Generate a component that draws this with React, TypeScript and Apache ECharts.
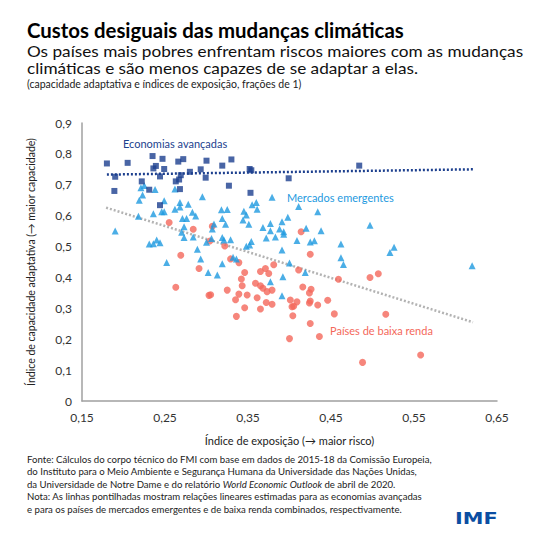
import React, { useEffect, useRef } from "react";
import * as echarts from "echarts";

const xTicks = [0.15, 0.25, 0.35, 0.45, 0.55, 0.65];
const yTicks = [0, 0.1, 0.2, 0.3, 0.4, 0.5, 0.6, 0.7, 0.8, 0.9];

const advancedPoints: number[][] = [
  [0.180, 0.769], [0.205, 0.771], [0.235, 0.793], [0.247, 0.784], [0.266, 0.775], [0.272, 0.783],
  [0.300, 0.778], [0.330, 0.782], [0.319, 0.762], [0.236, 0.753], [0.239, 0.761], [0.249, 0.751],
  [0.280, 0.742], [0.293, 0.750], [0.190, 0.726], [0.244, 0.727], [0.269, 0.731], [0.267, 0.717],
  [0.263, 0.711], [0.299, 0.723], [0.222, 0.711], [0.189, 0.680], [0.231, 0.684], [0.268, 0.686],
  [0.327, 0.697], [0.244, 0.634], [0.352, 0.751], [0.354, 0.747], [0.484, 0.762], [0.399, 0.721],
  [0.353, 0.674],
];

const emergingPoints: number[][] = [
  [0.221, 0.690], [0.225, 0.698], [0.238, 0.685], [0.262, 0.686], [0.295, 0.661], [0.223, 0.667],
  [0.219, 0.650], [0.249, 0.648], [0.268, 0.643], [0.278, 0.637], [0.262, 0.621], [0.268, 0.628],
  [0.236, 0.606], [0.246, 0.613], [0.249, 0.613], [0.283, 0.611], [0.218, 0.598], [0.271, 0.591],
  [0.276, 0.591], [0.287, 0.599], [0.318, 0.619], [0.325, 0.620], [0.319, 0.591], [0.323, 0.572],
  [0.379, 0.660], [0.411, 0.630], [0.434, 0.613], [0.355, 0.635], [0.360, 0.643], [0.361, 0.621],
  [0.345, 0.614], [0.348, 0.602], [0.344, 0.586], [0.398, 0.595], [0.391, 0.580], [0.377, 0.575],
  [0.351, 0.572], [0.497, 0.569], [0.190, 0.550], [0.309, 0.573], [0.307, 0.557], [0.273, 0.564],
  [0.270, 0.546], [0.273, 0.529], [0.284, 0.531], [0.240, 0.521], [0.231, 0.508], [0.236, 0.509],
  [0.244, 0.512], [0.306, 0.526], [0.300, 0.514], [0.319, 0.529], [0.321, 0.521], [0.329, 0.522],
  [0.289, 0.491], [0.252, 0.448], [0.293, 0.460], [0.319, 0.444], [0.302, 0.416], [0.313, 0.408],
  [0.332, 0.465], [0.336, 0.460], [0.368, 0.562], [0.377, 0.551], [0.388, 0.557], [0.393, 0.548],
  [0.393, 0.540], [0.372, 0.528], [0.383, 0.531], [0.420, 0.559], [0.438, 0.551], [0.409, 0.520],
  [0.425, 0.515], [0.430, 0.519], [0.348, 0.501], [0.352, 0.505], [0.354, 0.516], [0.391, 0.489],
  [0.462, 0.508], [0.462, 0.464], [0.465, 0.442], [0.400, 0.447], [0.419, 0.416], [0.392, 0.402],
  [0.377, 0.386], [0.391, 0.341], [0.526, 0.498], [0.521, 0.481], [0.620, 0.438],
];

const lowIncomePoints: number[][] = [
  [0.255, 0.578], [0.284, 0.556], [0.307, 0.566], [0.304, 0.518], [0.322, 0.502], [0.269, 0.472],
  [0.329, 0.460], [0.339, 0.448], [0.291, 0.429], [0.263, 0.368], [0.303, 0.342], [0.305, 0.344],
  [0.325, 0.359], [0.335, 0.328], [0.339, 0.346], [0.336, 0.274], [0.414, 0.548], [0.425, 0.475],
  [0.381, 0.441], [0.346, 0.416], [0.371, 0.429], [0.365, 0.419], [0.375, 0.413], [0.411, 0.424],
  [0.342, 0.395], [0.359, 0.381], [0.365, 0.373], [0.368, 0.365], [0.373, 0.354], [0.379, 0.359],
  [0.343, 0.373], [0.349, 0.343], [0.361, 0.334], [0.372, 0.319], [0.379, 0.313], [0.346, 0.302],
  [0.365, 0.298], [0.416, 0.369], [0.426, 0.362], [0.424, 0.350], [0.401, 0.327], [0.409, 0.321],
  [0.425, 0.324], [0.424, 0.317], [0.434, 0.311], [0.446, 0.326], [0.403, 0.305], [0.405, 0.307],
  [0.459, 0.394], [0.497, 0.400], [0.507, 0.412], [0.404, 0.276], [0.454, 0.282], [0.425, 0.251],
  [0.516, 0.281], [0.400, 0.202], [0.436, 0.209], [0.488, 0.125], [0.558, 0.149],
];

const advancedTrend: number[][] = [[0.18, 0.733], [0.621, 0.75]];
const emergingLowTrend: number[][] = [[0.179, 0.626], [0.621, 0.255]];

const FONT = "Lato, 'Open Sans', sans-serif";
const C_ADV = "#1c3f8e";
const C_EM = "#1e9ae0";
const C_LOW = "#f4685b";

const titleText = "Custos desiguais das mudanças climáticas";
const subtitleLines = [
  "Os países mais pobres enfrentam riscos maiores com as mudanças",
  "climáticas e são menos capazes de se adaptar a elas.",
];
const unitsText = "(capacidade adaptativa e índices de exposição, frações de 1)";

const footerLines = [
  "Fonte: Cálculos do corpo técnico do FMI com base em dados de 2015-18 da Comissão Europeia,",
  "do Instituto para o Meio Ambiente e Segurança Humana da Universidade das Nações Unidas,",
  "da Universidade de Notre Dame e do relatório {i|World Economic Outlook} de abril de 2020.",
  "Nota: As linhas pontilhadas mostram relações lineares estimadas para as economias avançadas",
  "e para os países de mercados emergentes e de baixa renda combinados, respectivamente.",
];

export default function App() {
  const ref = useRef<HTMLDivElement>(null);
  useEffect(() => {
    if (!ref.current) return;
    const chart = echarts.init(ref.current, null, { renderer: "svg" });
    const txt = (text: string, x: number, y: number, size: number, color: string, weight = "normal", extra: any = {}, scaleX = 1) => ({
      type: "text",
      x,
      y,
      scaleX,
      style: {
        text,
        fill: color,
        fontSize: size,
        fontFamily: FONT,
        fontWeight: weight,
        align: "left",
        verticalAlign: "middle",
        ...extra,
      },
    });
    const graphics: any[] = [
      txt(titleText, 27, 30, 20, "#000", "bold", {}, 1.02),
      txt(subtitleLines[0], 27, 51, 15.5, "#111", "normal", {}, 1.11),
      txt(subtitleLines[1], 27, 68, 15.5, "#111", "normal", {}, 1.11),
      txt(unitsText, 27, 84, 10.5, "#222"),
      txt("Economias avançadas", 123, 143, 11, C_ADV),
      txt("Mercados emergentes", 287, 197, 11, C_EM),
      txt("Países de baixa renda", 330, 330, 11, C_LOW),
      {
        type: "text",
        x: 455,
        y: 518,
        scaleX: 1.3,
        style: {
          text: "IMF",
          fill: "#0b4ea2",
          fontSize: 16,
          fontFamily: "'DejaVu Sans', sans-serif",
          fontWeight: "bold",
          align: "left",
          verticalAlign: "middle",
        },
      },
      {
        type: "text",
        x: 27,
        y: 452.75,
        style: {
          text: footerLines.join("\n"),
          align: "left",
          verticalAlign: "top",
          fontFamily: FONT,
          fontSize: 9.6,
          lineHeight: 12.5,
          fill: "#222",
          rich: {
            i: { fontStyle: "italic", fontSize: 9.6, fontFamily: FONT, fill: "#222", lineHeight: 12.5 },
          },
        },
      },
    ];

    const fmt = (v: number, d: number) => (v === 0 ? "0" : v.toFixed(d).replace(".", ","));

    chart.setOption({
      animation: false,
      grid: { left: 82, right: 53, top: 123, bottom: 146, containLabel: false },
      xAxis: {
        type: "value",
        min: xTicks[0],
        max: xTicks[xTicks.length - 1],
        interval: 0.1,
        name: "Índice de exposição (→ maior risco)",
        nameLocation: "middle",
        nameGap: 34,
        nameTextStyle: { fontSize: 11, color: "#222", fontFamily: FONT },
        axisLine: { show: true, lineStyle: { color: "#a0a0a0", width: 1.5 } },
        axisTick: { show: false },
        splitLine: { show: false },
        axisLabel: { fontSize: 12, color: "#333", fontFamily: FONT, margin: 10, formatter: (v: number) => fmt(v, 2) },
      },
      yAxis: {
        type: "value",
        min: yTicks[0],
        max: yTicks[yTicks.length - 1],
        interval: 0.1,
        name: "Índice de capacidade adaptativa (→ maior capacidade)",
        nameLocation: "middle",
        nameGap: 46,
        nameTextStyle: { fontSize: 10.5, color: "#222", fontFamily: FONT },
        axisLine: { show: true, lineStyle: { color: "#a0a0a0", width: 1.5 } },
        axisTick: { show: false },
        splitLine: { show: false },
        axisLabel: { fontSize: 12, color: "#333", fontFamily: FONT, margin: 10, formatter: (v: number) => fmt(v, 1) },
      },
      series: [
        {
          type: "line",
          data: emergingLowTrend,
          symbol: "none",
          lineStyle: { color: "#b3b3b3", width: 2.5, type: [2, 2] },
          z: 1,
        },
        {
          type: "line",
          data: advancedTrend,
          symbol: "none",
          lineStyle: { color: C_ADV, width: 2.5, type: [2, 2] },
          z: 1,
        },
        {
          type: "scatter",
          data: lowIncomePoints,
          symbol: "circle",
          symbolSize: 7,
          itemStyle: { color: C_LOW },
          z: 2,
        },
        {
          type: "scatter",
          data: emergingPoints,
          symbol: "triangle",
          symbolSize: 7,
          itemStyle: { color: C_EM },
          z: 3,
        },
        {
          type: "scatter",
          data: advancedPoints,
          symbol: "rect",
          symbolSize: 6,
          itemStyle: { color: C_ADV },
          z: 4,
        },
      ],
      graphic: graphics,
    });
    return () => chart.dispose();
  }, []);
  return <div ref={ref} style={{ position: "fixed", left: 0, top: 0, width: 550, height: 547, background: "#fff" }} />;
}
